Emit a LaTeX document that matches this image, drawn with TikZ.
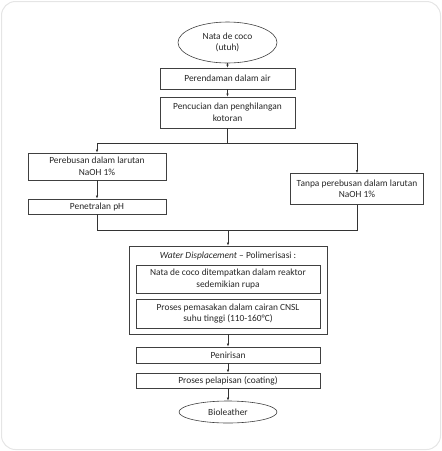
\documentclass[tikz,border=0pt]{standalone}
\usepackage{fontspec}
\setmainfont{Carlito}
\usetikzlibrary{shapes.geometric,arrows.meta}

\begin{document}
\begin{tikzpicture}[x=1pt,y=-1pt,
    txt/.style={font=\fontsize{9.4}{11.5}\selectfont, text=black!85, align=center, inner sep=1pt},
    box/.style={txt, draw=black!75, line width=0.6pt},
    oval/.style={box, ellipse},
    arr/.style={-{Latex[length=3.2pt,width=2.6pt]}, draw=black!80, line width=0.6pt},
    ln/.style={draw=black!80, line width=0.6pt}]

\useasboundingbox (0,0) rectangle (442,451);
\draw[gray!20, line width=1pt, rounded corners=14pt] (1.5,1.5) rectangle (440.5,449.5);

% alur utama
\node[oval, minimum width=99pt, minimum height=41pt] (nata) at (227.5,42.5) {Nata de coco\\(utuh)};
\node[box, minimum width=135pt, minimum height=21pt] (rendam) at (227.5,78.5) {Perendaman dalam air};
\node[box, minimum width=135pt, minimum height=31pt] (cuci) at (227.5,112.5) {Pencucian dan penghilangan\\kotoran};

% dua cabang
\node[box, minimum width=138pt, minimum height=27pt] (rebus) at (97,166.5) {Perebusan dalam larutan\\NaOH 1\%};
\node[box, minimum width=138pt, minimum height=15pt] (netral) at (97,206.5) {Penetralan pH};
\node[box, minimum width=133pt, minimum height=31pt] (tanpa) at (357,189) {Tanpa perebusan dalam larutan\\NaOH 1\%};

% polimerisasi
\node[box, minimum width=198pt, minimum height=88pt] (poli) at (228,290) {};
\node[txt] (judul) at (228,256) {\textit{Water Displacement} -- Polimerisasi :};
\node[box, minimum width=184pt, minimum height=28pt] (reaktor) at (228,279) {Nata de coco ditempatkan dalam reaktor\\sedemikian rupa};
\node[box, minimum width=184pt, minimum height=29pt] (masak) at (228,313.5) {Proses pemasakan dalam cairan CNSL\\suhu tinggi (110-160°C)};

\node[box, minimum width=184pt, minimum height=16pt] (tiris) at (228,355) {Penirisan};
\node[box, minimum width=184pt, minimum height=15pt] (lapis) at (228,380.5) {Proses pelapisan (coating)};
\node[oval, minimum width=98pt, minimum height=22pt] (bio) at (228,412) {Bioleather};

\coordinate (pisah) at (227.5,143);
\coordinate (kiri) at (97,143);
\coordinate (kanan) at (357,143);
\coordinate (gkiri) at (97,230);
\coordinate (gkanan) at (357,230);
\coordinate (gabung) at (228,230);

\draw[arr] (nata) -- (rendam);
\draw[arr] (rendam) -- (cuci);
\draw[ln] (cuci) -- (pisah);
\draw[ln] (kiri) -- (kanan);
\draw[arr] (kiri) -- (rebus);
\draw[arr] (kanan) -- (tanpa);
\draw[arr] (rebus) -- (netral);
\draw[ln] (netral) -- (gkiri) -- (gkanan) -- (tanpa);
\draw[arr] (gabung) -- (poli);
\draw[arr] (poli) -- (tiris);
\draw[arr] (tiris) -- (lapis);
\draw[arr] (lapis) -- (bio);

\end{tikzpicture}
\end{document}
